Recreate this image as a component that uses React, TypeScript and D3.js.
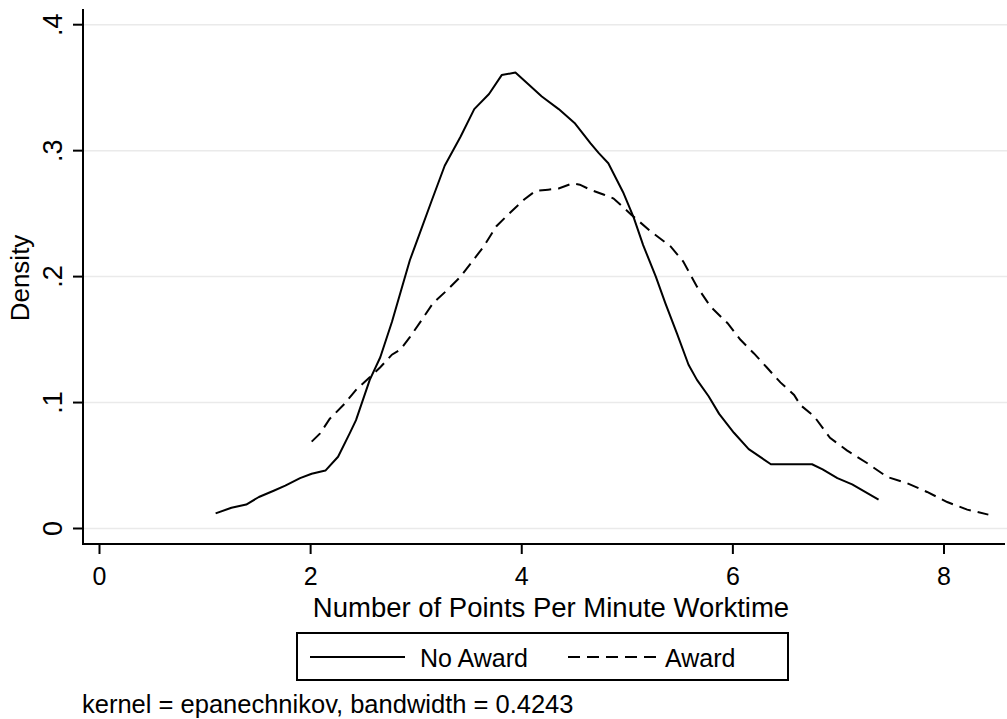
import React from 'react'
import * as d3 from 'd3'

// kernel density estimates
const noAwardX = [1.10, 1.25, 1.39, 1.51, 1.65, 1.76, 1.90, 2.01, 2.14, 2.26, 2.37, 2.43, 2.56, 2.66, 2.77, 2.86, 2.94, 3.01, 3.15, 3.27, 3.42, 3.55, 3.69, 3.81, 3.94, 4.06, 4.19, 4.35, 4.50, 4.65, 4.73, 4.82, 4.96, 5.06, 5.15, 5.27, 5.36, 5.47, 5.58, 5.66, 5.77, 5.87, 6.01, 6.15, 6.36, 6.75, 6.85, 6.99, 7.13, 7.38]
const noAwardY = [0.012, 0.0165, 0.019, 0.025, 0.030, 0.034, 0.040, 0.0435, 0.046, 0.057, 0.0755, 0.086, 0.118, 0.136, 0.164, 0.190, 0.213, 0.229, 0.261, 0.288, 0.311, 0.333, 0.345, 0.360, 0.362, 0.353, 0.343, 0.333, 0.322, 0.306, 0.298, 0.290, 0.267, 0.247, 0.225, 0.200, 0.179, 0.155, 0.130, 0.118, 0.105, 0.091, 0.076, 0.063, 0.051, 0.051, 0.047, 0.040, 0.035, 0.023]

const awardX = [2.01, 2.09, 2.18, 2.31, 2.44, 2.56, 2.66, 2.77, 2.85, 2.94, 3.04, 3.16, 3.29, 3.42, 3.54, 3.64, 3.76, 3.88, 4.02, 4.13, 4.25, 4.35, 4.48, 4.55, 4.65, 4.78, 4.87, 5.04, 5.22, 5.41, 5.53, 5.66, 5.79, 5.95, 6.07, 6.20, 6.32, 6.45, 6.58, 6.64, 6.77, 6.92, 7.08, 7.27, 7.46, 7.65, 7.84, 8.03, 8.22, 8.42]
const awardY = [0.069, 0.0755, 0.087, 0.098, 0.111, 0.120, 0.128, 0.138, 0.142, 0.152, 0.164, 0.179, 0.189, 0.200, 0.213, 0.224, 0.240, 0.250, 0.261, 0.268, 0.269, 0.270, 0.274, 0.273, 0.269, 0.265, 0.262, 0.249, 0.236, 0.224, 0.212, 0.192, 0.176, 0.163, 0.150, 0.139, 0.128, 0.116, 0.106, 0.098, 0.089, 0.072, 0.062, 0.052, 0.041, 0.036, 0.029, 0.021, 0.015, 0.011]

const xTicks = [0, 2, 4, 6, 8]
const yTicks = [0, 0.1, 0.2, 0.3, 0.4]
const yTickLabels = ['0', '.1', '.2', '.3', '.4']

const xTitle = 'Number of Points Per Minute Worktime'
const yTitle = 'Density'
const legendLabels = ['No Award', 'Award']
const note = 'kernel = epanechnikov, bandwidth = 0.4243'

const FONT = '"Liberation Sans", Arial, sans-serif'

export default function App() {
  const width = 1007
  const height = 719
  const axisLeft = 83
  const axisBottom = 544

  const x = d3.scaleLinear().domain([0, 8]).range([99.5, 944])
  const y = d3.scaleLinear().domain([0, 0.4]).range([528.5, 24.7])

  const line = d3.line<[number, number]>()
    .x((d) => x(d[0]))
    .y((d) => y(d[1]))

  const noAward = noAwardX.map((v, i) => [v, noAwardY[i]] as [number, number])
  const award = awardX.map((v, i) => [v, awardY[i]] as [number, number])

  return (
    <svg width={width} height={height} style={{ position: 'absolute', left: 0, top: 0, background: '#fff' }}
      fontFamily={FONT}>
      <rect width={width} height={height} fill="#fff" />

      {/* gridlines */}
      {yTicks.map((t) => (
        <line key={`g${t}`} x1={axisLeft} x2={width} y1={y(t)} y2={y(t)} stroke="#eaeaea" strokeWidth={1.5} />
      ))}

      {/* curves */}
      <path d={line(noAward) || ''} fill="none" stroke="#000" strokeWidth={2} strokeLinejoin="round" />
      <path d={line(award) || ''} fill="none" stroke="#000" strokeWidth={2} strokeDasharray="12,7" />

      {/* y axis */}
      <line x1={axisLeft} x2={axisLeft} y1={9} y2={axisBottom + 1} stroke="#000" strokeWidth={2} />
      {yTicks.map((t, i) => (
        <g key={`y${t}`}>
          <line x1={axisLeft - 10} x2={axisLeft} y1={y(t)} y2={y(t)} stroke="#000" strokeWidth={2} />
          <text transform={`translate(62,${y(t)}) rotate(-90)`} textAnchor="middle" fontSize={27}>
            {yTickLabels[i]}
          </text>
        </g>
      ))}
      <text transform={`translate(29,278) rotate(-90)`} textAnchor="middle" fontSize={26}>{yTitle}</text>

      {/* x axis */}
      <line x1={axisLeft - 1} x2={1005} y1={axisBottom} y2={axisBottom} stroke="#000" strokeWidth={2} />
      {xTicks.map((t) => (
        <g key={`x${t}`}>
          <line x1={x(t)} x2={x(t)} y1={axisBottom} y2={axisBottom + 10} stroke="#000" strokeWidth={2} />
          <text x={x(t)} y={585} textAnchor="middle" fontSize={25}>{t}</text>
        </g>
      ))}
      <text x={551} y={617} textAnchor="middle" fontSize={27.5}>{xTitle}</text>

      {/* legend */}
      <rect x={297} y={633} width={491} height={47} fill="#fff" stroke="#000" strokeWidth={2} />
      <line x1={310} x2={405} y1={657} y2={657} stroke="#000" strokeWidth={2} />
      <text x={420} y={667} fontSize={25}>{legendLabels[0]}</text>
      <line x1={568} x2={656} y1={657} y2={657} stroke="#000" strokeWidth={2} strokeDasharray="12,7" />
      <text x={665} y={667} fontSize={25}>{legendLabels[1]}</text>

      <text x={82} y={713} fontSize={25.5}>{note}</text>
    </svg>
  )
}
